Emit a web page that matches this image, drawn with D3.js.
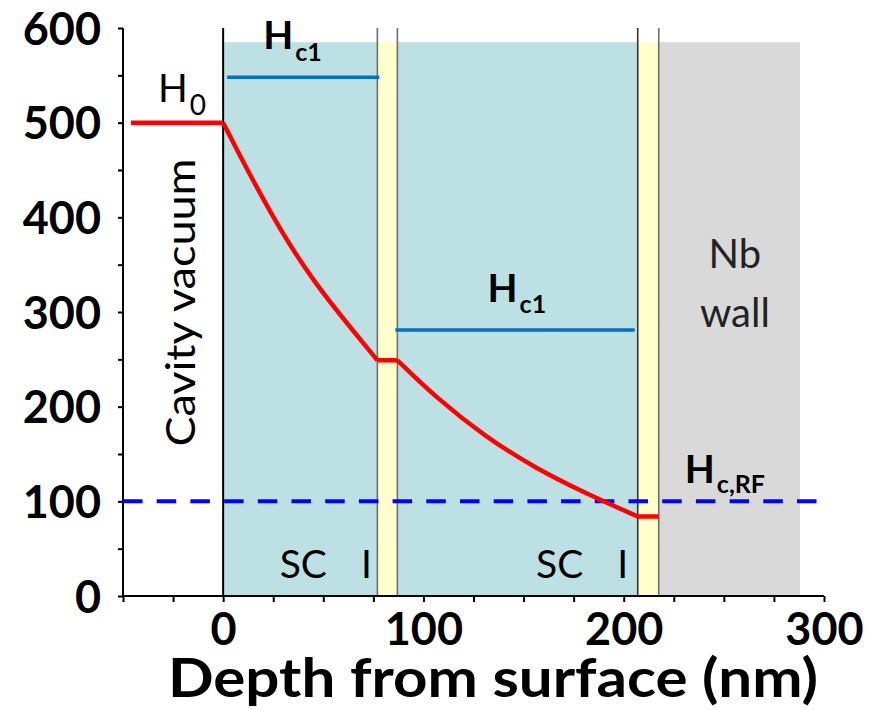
<!DOCTYPE html>
<html>
<head>
<meta charset="utf-8">
<script src="https://cdn.jsdelivr.net/npm/d3@7"></script>
<style>
  html, body { margin: 0; padding: 0; background: #fff; }
  svg text { font-family: Lato, "Open Sans", sans-serif; }
</style>
</head>
<body>
<div id="chart"></div>
<script>
// Layer structure (nm)
var layerStart = [0, 77, 87, 207, 217.5];
var layerEnd = [77, 87, 207, 217.5, 288];
var layerType = ["SC", "I", "SC", "I", "Nb"];
var layerTop = 585;

// Field profile H(x)
var depthNm = [-46, 0, 13, 30, 46, 63, 77, 87, 106, 131, 156, 181, 207, 217.5];
var fieldH = [500, 500, 446, 381, 330, 285, 249, 249, 210, 168, 135, 108.5, 84, 84];
// index ranges of the pieces of the profile (flat / decaying)
var pieces = [[0, 1], [1, 6], [6, 7], [7, 12], [12, 13]];

// Hc1 levels in each SC layer
var hc1From = [2, 86];
var hc1To = [78, 205.5];
var hc1Value = [548, 281];

var hcRF = 100;

var xTicks = [0, 100, 200, 300];
var yTicks = [0, 100, 200, 300, 400, 500, 600];

const width = 871, height = 710;

let svg = d3.select("#chart")
    .append("svg")
    .attr("width", width)
    .attr("height", height);

let x = d3.scaleLinear().domain([-50, 300]).range([123, 824]);
let y = d3.scaleLinear().domain([0, 600]).range([596, 28]);

let layerColor = d3.scaleOrdinal()
    .domain(["SC", "I", "Nb"])
    .range(["#bce0e3", "#ffffcc", "#d9d9d9"]);

// Layer fills
svg.append("g")
    .selectAll("rect")
    .data(layerStart)
    .enter()
    .append("rect")
    .attr("x", d => x(d))
    .attr("width", (d, i) => x(layerEnd[i]) - x(d))
    .attr("y", y(layerTop))
    .attr("height", y(0) - y(layerTop))
    .attr("fill", (d, i) => layerColor(layerType[i]));

// Layer boundaries
svg.append("g")
    .selectAll("line")
    .data(layerStart)
    .enter()
    .append("line")
    .attr("x1", d => x(d))
    .attr("x2", d => x(d))
    .attr("y1", y(600))
    .attr("y2", y(0))
    .attr("stroke", (d, i) => i === 0 ? "#000" : (i === 3 ? "#333" : "#6f6f6f"))
    .attr("stroke-width", (d, i) => i === 0 ? 2 : 1.6);

// Axes
let xAxis = d3.axisBottom(x)
    .tickValues(d3.range(-50, 301, 25))
    .tickSize(6)
    .tickFormat(d => xTicks.includes(d) ? d : "");

let yAxis = d3.axisLeft(y)
    .tickValues(d3.range(0, 601, 50))
    .tickSize(5)
    .tickFormat(d => yTicks.includes(d) ? d : "");

let gx = svg.append("g")
    .attr("transform", `translate(0,${y(0)})`)
    .call(xAxis);

let gy = svg.append("g")
    .attr("transform", `translate(${x(-50)},0)`)
    .call(yAxis);

[gx, gy].forEach(g => {
    g.select(".domain").attr("stroke", "#000").attr("stroke-width", 2);
    g.selectAll(".tick line").attr("stroke", "#000").attr("stroke-width", 2);
    g.selectAll(".tick text")
        .attr("fill", "#000")
        .style("font-size", "45px")
        .style("font-weight", "bold");
});
gx.select(".domain").attr("d", `M${x(-50)},0H${x(300)}`);
gy.select(".domain").attr("d", `M0,${y(0)}V${y(600)}`);
gx.selectAll(".tick text").attr("y", 17).attr("dy", "0.71em");
gy.selectAll(".tick text").attr("x", -22).attr("dy", "0.36em");

// Hc,RF dashed level
svg.append("line")
    .attr("x1", x(-50))
    .attr("x2", x(300))
    .attr("y1", y(hcRF))
    .attr("y2", y(hcRF))
    .attr("stroke", "#0000ff")
    .attr("stroke-width", 4)
    .attr("stroke-dasharray", "19.5,14.2");

// Hc1 levels
svg.append("g")
    .selectAll("line")
    .data(hc1Value)
    .enter()
    .append("line")
    .attr("x1", (d, i) => x(hc1From[i]))
    .attr("x2", (d, i) => x(hc1To[i]))
    .attr("y1", d => y(d))
    .attr("y2", d => y(d))
    .attr("stroke", "#0070c0")
    .attr("stroke-width", 3.5);

// Field profile
let profile = d3.line()
    .x(i => x(depthNm[i]))
    .y(i => y(fieldH[i]))
    .curve(d3.curveBasis);

svg.append("g")
    .selectAll("path")
    .data(pieces)
    .enter()
    .append("path")
    .attr("d", p => profile(d3.range(p[0], p[1] + 1)))
    .attr("fill", "none")
    .attr("stroke", "#ff0000")
    .attr("stroke-width", 4.5)
    .attr("stroke-linejoin", "round");

// Labels
let addH = (px, py, sub, bold, size, subSize, drop) => {
    let t = svg.append("text")
        .attr("x", px)
        .attr("y", py)
        .attr("fill", "#000")
        .style("font-size", size + "px")
        .style("font-weight", bold ? "bold" : "normal");
    t.append("tspan").text("H");
    t.append("tspan")
        .attr("dy", drop)
        .attr("dx", 2)
        .style("font-size", subSize + "px")
        .text(sub);
};

addH(x(-32.5), y(522), "0", false, 39, 28, 13);
addH(x(20), y(578), "c1", true, 39, 25, 12);
addH(x(132), y(311), "c1", true, 39, 25, 11);
addH(x(230.5), y(119), "c,RF", true, 39, 25, 10);

let plain = (px, py, str, size, color) => svg.append("text")
    .attr("x", px)
    .attr("y", py)
    .attr("text-anchor", "middle")
    .attr("fill", color || "#000")
    .style("font-size", size + "px")
    .text(str);

plain(x(40), y(19.5), "SC", 39);
plain(x(71.5), y(19.5), "I", 39);
plain(x(168), y(19.5), "SC", 39);
plain(x(199.5), y(19.5), "I", 39);
plain(x(255.5), y(346), "Nb", 40, "#222");
plain(x(255.5), y(284), "wall", 40, "#222");

svg.append("text")
    .attr("transform", `translate(${x(-14)},${y(310)}) rotate(-90)`)
    .attr("text-anchor", "middle")
    .attr("fill", "#000")
    .attr("textLength", 288)
    .attr("lengthAdjust", "spacingAndGlyphs")
    .style("font-size", "40px")
    .text("Cavity vacuum");

svg.append("text")
    .attr("x", 168)
    .attr("y", 697)
    .attr("fill", "#000")
    .attr("textLength", 650)
    .attr("lengthAdjust", "spacingAndGlyphs")
    .style("font-size", "53px")
    .style("font-weight", "bold")
    .text("Depth from surface (nm)");
</script>
</body>
</html>
